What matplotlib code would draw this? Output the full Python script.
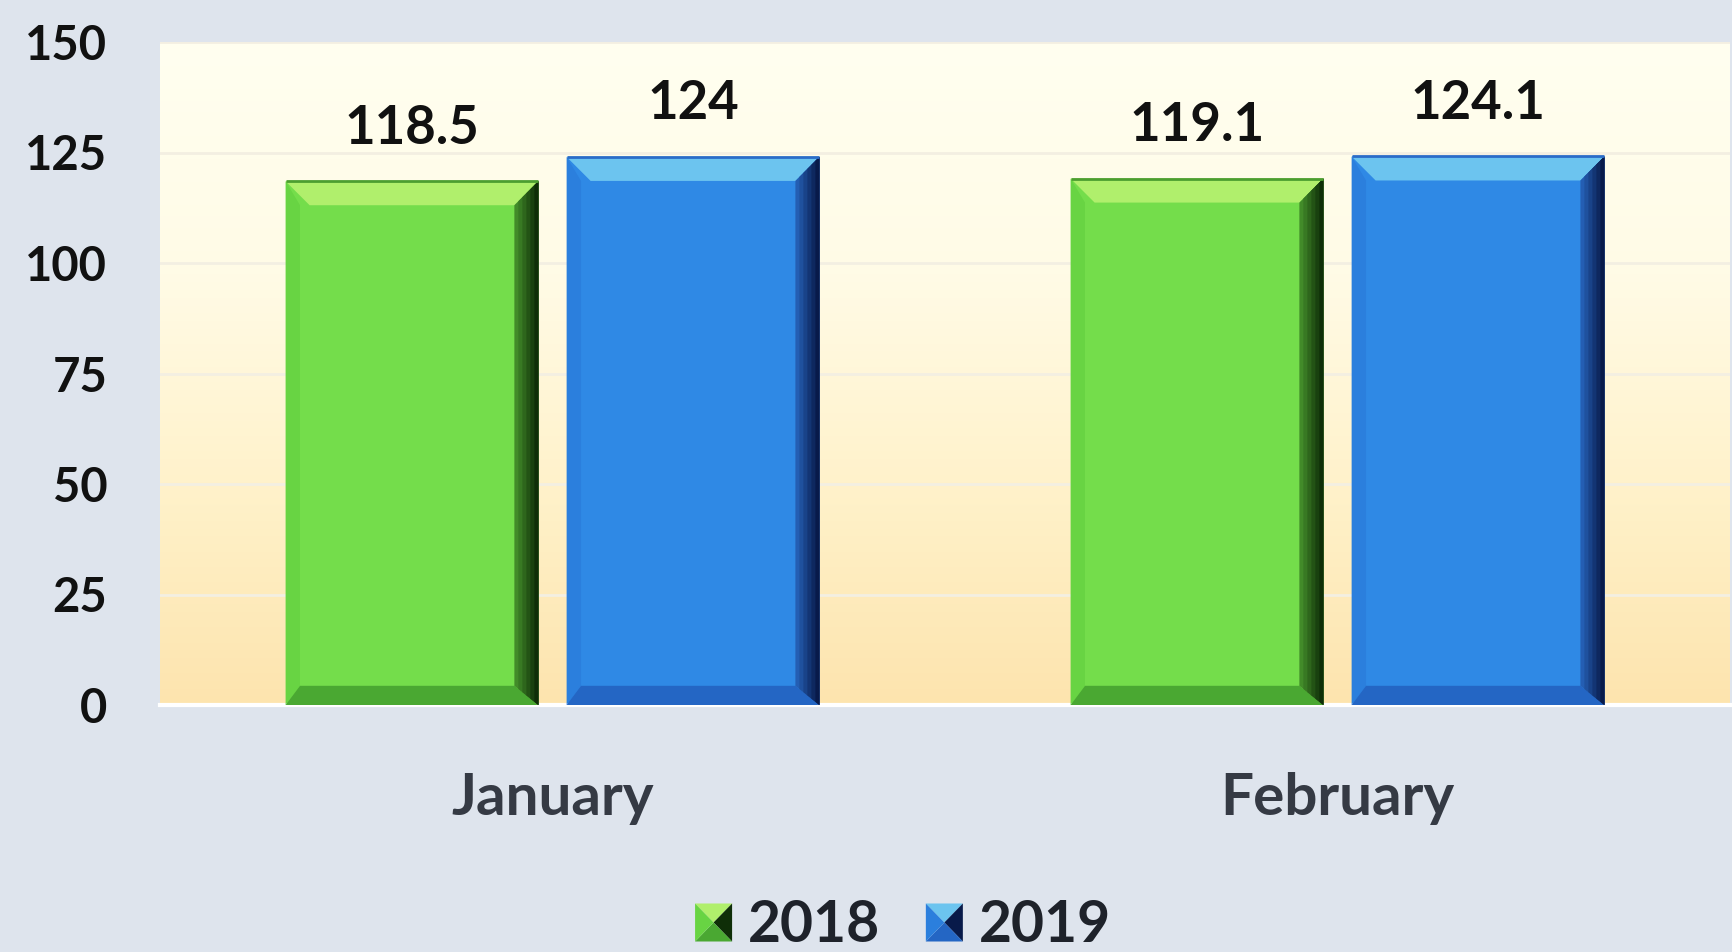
import numpy as np
import matplotlib
matplotlib.use("Agg")
import matplotlib.pyplot as plt
from matplotlib.patches import Polygon, Patch
from matplotlib.colors import to_rgb
from matplotlib.legend_handler import HandlerBase

# ------------------------------------------------------------
# Data
# ------------------------------------------------------------
months = ["January", "February"]
years = ["2018", "2019"]
values_2018 = [118.5, 119.1]
values_2019 = [124, 124.1]
labels_2018 = ["118.5", "119.1"]
labels_2019 = ["124", "124.1"]
y_ticks = [0, 25, 50, 75, 100, 125, 150]

# ------------------------------------------------------------
# Style
# ------------------------------------------------------------
FIG_BG = "#dee4ed"
FONT = ["Lato", "DejaVu Sans"]
# main, top bevel, left bevel, bottom bevel, right bevel (inner), right edge (outer)
GREEN = ["#74dd4b", "#b0ef6c", "#68d443", "#4aa832", "#4c9e30", "#0f2e08"]
BLUE = ["#2f89e5", "#6cc4ef", "#2b7fdd", "#2466c4", "#2a6cc8", "#081a4a"]
BEVEL_PX = 24

plt.rcParams["font.family"] = FONT
plt.rcParams["font.weight"] = "bold"


class PyramidHandler(HandlerBase):
    """Legend key drawn as a square split into four shaded triangles."""

    def __init__(self, shades):
        super().__init__()
        self.shades = shades

    def create_artists(self, legend, orig_handle, xdescent, ydescent,
                       width, height, fontsize, trans):
        x0, y0 = -xdescent, -ydescent
        x1, y1 = x0 + width, y0 + height
        c = ((x0 + x1) / 2, (y0 + y1) / 2)
        tl, tr, br, bl = (x0, y1), (x1, y1), (x1, y0), (x0, y0)
        tris = [(tl, tr, c), (tr, br, c), (br, bl, c), (bl, tl, c)]
        cols = [self.shades[1], self.shades[5], self.shades[3], self.shades[2]]
        out = []
        for pts, col in zip(tris, cols):
            out.append(Polygon(pts, closed=True, facecolor=col, edgecolor="none",
                               transform=trans))
        return out


def mix(c1, c2, f):
    a, b = np.array(to_rgb(c1)), np.array(to_rgb(c2))
    return tuple(a + (b - a) * f)


def add_bevels(ax, bars, shades, bx, by):
    for b in bars:
        x0, x1 = b.get_x(), b.get_x() + b.get_width()
        y0, y1 = 0, b.get_height()
        byb = by * 0.8
        polys = [
            ([(x0, y1), (x1, y1), (x1 - bx, y1 - by), (x0 + bx, y1 - by)], shades[1]),
            ([(x0, y0), (x0 + bx * 0.6, y0 + byb), (x0 + bx * 0.6, y1 - by), (x0, y1)], shades[2]),
            ([(x0, y0), (x1, y0), (x1 - bx, y0 + byb), (x0 + bx * 0.6, y0 + byb)], shades[3]),
        ]
        for pts, col in polys:
            ax.add_patch(Polygon(pts, closed=True, facecolor=col, edgecolor="none", zorder=3))
        # right bevel as stepped gradient towards a dark edge
        n = 6
        for i in range(n):
            f = 1 - i / n
            col = mix(shades[4], shades[5], (i + 1) / n)
            pts = [(x1, y0), (x1 - bx * f, y0 + byb * f), (x1 - bx * f, y1 - by * f), (x1, y1)]
            ax.add_patch(Polygon(pts, closed=True, facecolor=col, edgecolor="none", zorder=3))
        # thin darker outline on top edge
        ax.plot([x0, x1], [y1, y1], color=shades[4], lw=2, zorder=4, solid_capstyle="butt")


# ------------------------------------------------------------
# Figure
# ------------------------------------------------------------
W, H, DPI = 1733, 952, 100
fig = plt.figure(figsize=(W / DPI, H / DPI), dpi=DPI, facecolor=FIG_BG)
ax_left, ax_right, ax_top, ax_bottom = 160, 1730, 42, 705
ax = fig.add_axes([ax_left / W, 1 - ax_bottom / H, (ax_right - ax_left) / W, (ax_bottom - ax_top) / H])

x = np.arange(len(months))
bar_w = 0.322
offset = 0.179
ax.set_xlim(-0.5, len(months) - 0.5)
ax.set_ylim(0, 150)

# gradient plot-area background
stops_t = [0.0, 0.35, 0.7, 1.0]
stops_c = [to_rgb(c) for c in ["#fffff0", "#fffbe6", "#fff1c8", "#fde4ae"]]
t = np.linspace(0, 1, 256)
grad = np.stack([np.interp(t, stops_t, [c[i] for c in stops_c]) for i in range(3)], axis=-1)
ax.imshow(grad[:, None, :], extent=(-0.5, len(months) - 0.5, 0, 150), aspect="auto",
          origin="upper", zorder=0)

for yv in y_ticks[1:]:
    ax.axhline(yv, color="#f3efe2", lw=2, zorder=1)

bars18 = ax.bar(x - offset, values_2018, bar_w, color=GREEN[0], zorder=2, label=years[0])
bars19 = ax.bar(x + offset, values_2019, bar_w, color=BLUE[0], zorder=2, label=years[1])

px_x = (ax_right - ax_left) / (len(months))
px_y = (ax_bottom - ax_top) / 150
bx, by = BEVEL_PX / px_x, BEVEL_PX / px_y
add_bevels(ax, bars18, GREEN, bx, by)
add_bevels(ax, bars19, BLUE, bx, by)

for bars, labs in [(bars18, labels_2018), (bars19, labels_2019)]:
    for b, lab in zip(bars, labs):
        ax.annotate(lab, (b.get_x() + b.get_width() / 2, b.get_height()),
                    xytext=(0, 27), textcoords="offset points", ha="center", va="baseline",
                    fontsize=38, fontweight="bold", color="#111111", zorder=5)

ax.set_yticks(y_ticks)
ax.set_yticklabels([str(v) for v in y_ticks], fontsize=34, fontweight="bold", color="#111111")
ax.set_xticks(x)
ax.set_xticklabels(months, fontsize=42, fontweight="bold", color="#353a44")
ax.tick_params(axis="y", length=0, pad=38)
ax.tick_params(axis="x", length=0, pad=48)
for s in ["top", "right", "left"]:
    ax.spines[s].set_visible(False)
ax.spines["bottom"].set_color("white")
ax.spines["bottom"].set_linewidth(3)

handles = [Patch(facecolor=GREEN[0]), Patch(facecolor=BLUE[0])]
leg = fig.legend(handles, years, loc="center", bbox_to_anchor=(903 / W, 1 - 926 / H),
                 ncol=2, frameon=False, fontsize=41, handlelength=0.65, handleheight=0.65,
                 handletextpad=0.28, columnspacing=0.8,
                 handler_map={handles[0]: PyramidHandler(GREEN), handles[1]: PyramidHandler(BLUE)})
for txt in leg.get_texts():
    txt.set_color("#1e222a")
    txt.set_fontweight("bold")

fig.savefig("out.png", dpi=DPI, facecolor=FIG_BG)
